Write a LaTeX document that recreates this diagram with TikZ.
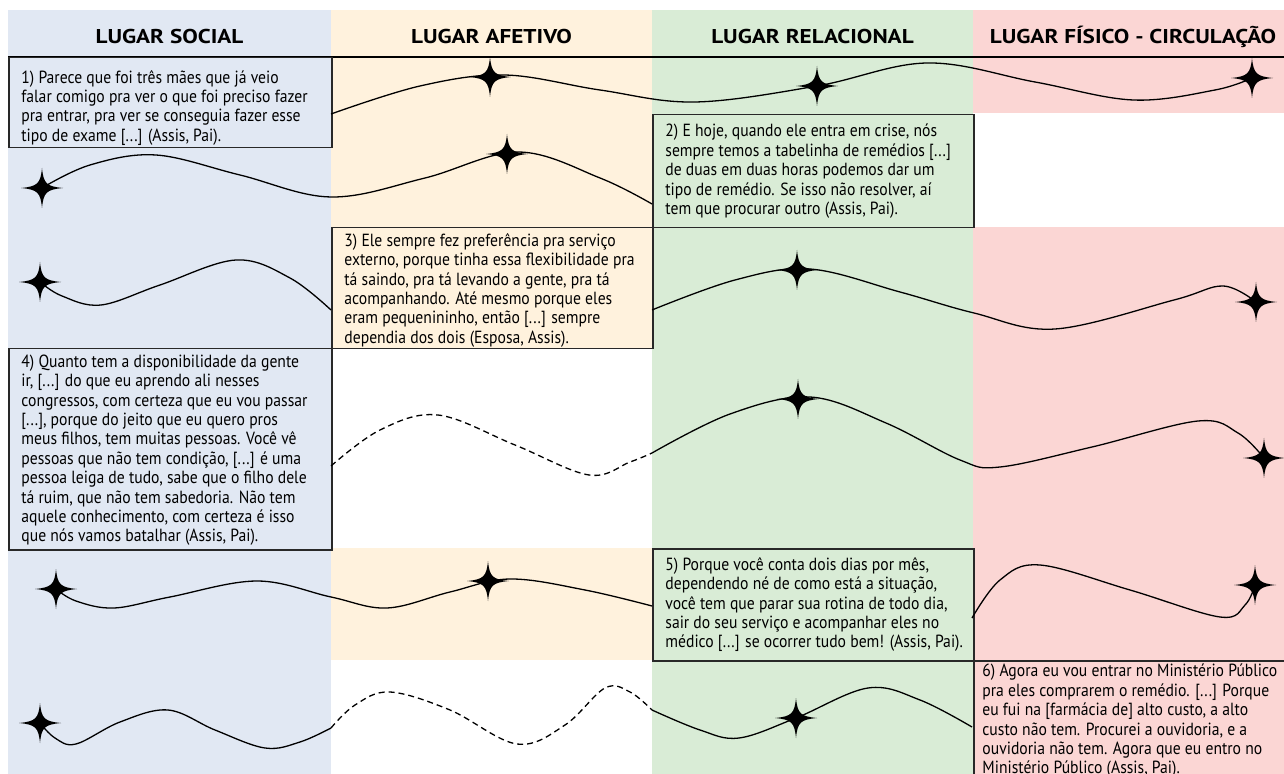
\documentclass[tikz,border=0pt]{standalone}
\usepackage{fontspec}
\setmainfont{PT Sans}
\newfontfamily\bodyfont{PT Sans}[FakeStretch=0.89]
\newfontfamily\headfont{PT Sans}[FakeStretch=1.16]
\usetikzlibrary{calc}
\definecolor{socialblue}{RGB}{225,232,243}
\definecolor{afetyellow}{RGB}{255,242,221}
\definecolor{relgreen}{RGB}{217,236,214}
\definecolor{fisred}{RGB}{251,214,212}
\definecolor{boxline}{RGB}{40,40,40}
\tikzset{
  quotebox/.style={draw=boxline, line width=0.75pt, inner sep=0pt, anchor=north west},
  quotetext/.style={font=\bodyfont\fontsize{8.8}{9.7}\selectfont, align=left, inner sep=0pt, anchor=west},
  headtext/.style={font=\headfont\bfseries\fontsize{10}{12}\selectfont, inner sep=0pt},
  curve/.style={line width=0.65pt, black},
  dashcurve/.style={line width=0.65pt, black, dash pattern=on 3pt off 2pt},
  spark/.pic={\fill[black] (0,-20) .. controls (1.5,-4.5) and (4.5,-1.5) .. (21,0) .. controls (4.5,1.5) and (1.5,4.5) .. (0,20) .. controls (-1.5,4.5) and (-4.5,1.5) .. (-21,0) .. controls (-4.5,-1.5) and (-1.5,-4.5) .. cycle;}
}
\begin{document}
\begin{tikzpicture}[x=0.5pt,y=-0.5pt]
\useasboundingbox (0,0) rectangle (1284,774);
\clip (0,0) rectangle (1284,774);
\fill[white] (0,0) rectangle (1284,774);
% column backgrounds
\fill[socialblue] (8,10) rectangle (331,774);
\fill[afetyellow] (331,10) rectangle (652,348);
\fill[afetyellow] (331,548) rectangle (652,660);
\fill[relgreen] (652,10) rectangle (973,774);
\fill[fisred] (973,10) rectangle (1284,113);
\fill[fisred] (973,227) rectangle (1284,660);
% headers
\node[headtext] (h1) at (169.5,37) {LUGAR SOCIAL};
\node[headtext] (h2) at (491.5,37) {LUGAR AFETIVO};
\node[headtext] (h3) at (812.5,37) {LUGAR RELACIONAL};
\node[headtext] (h4) at (1133,37) {LUGAR FÍSICO - CIRCULAÇÃO};
\draw[line width=1pt] (8,57) -- (1284,57);
% boxes
\node[quotebox, fill=socialblue, minimum width=161.5pt, minimum height=45pt] (b1) at (8,57) {};
\node[quotebox, fill=relgreen, minimum width=160.5pt, minimum height=56.5pt] (b2) at (652,114) {};
\node[quotebox, fill=afetyellow, minimum width=160.5pt, minimum height=60.5pt] (b3) at (331,227) {};
\node[quotebox, fill=socialblue, minimum width=161.5pt, minimum height=100.5pt] (b4) at (8,348) {};
\node[quotebox, fill=relgreen, minimum width=160.5pt, minimum height=56pt] (b5) at (652,548) {};
\node[quotebox, fill=fisred, minimum width=170pt, minimum height=70pt] (b6) at (973,660) {};
% star positions
\coordinate (sA1) at (490,77);
\coordinate (sA2) at (817,86);
\coordinate (sA3) at (1252,78);
\coordinate (sB1) at (507,154);
\coordinate (sB2) at (42,188);
\coordinate (sC1) at (40,282);
\coordinate (sC2) at (797,270);
\coordinate (sC3) at (1256,302);
\coordinate (sD1) at (798,399);
\coordinate (sD2) at (1264,458);
\coordinate (sE1) at (56,589);
\coordinate (sE2) at (488,581);
\coordinate (sE3) at (1255,585);
\coordinate (sF1) at (40,723);
\coordinate (sF2) at (796,718);
% curves
\draw[curve] plot[smooth, tension=0.6] coordinates {(331,114) (420,86) (505,75) (600,90) (695,102) (817,86) (927,63) (1035,82) (1133,100) (1215,90) (sA3)};
\draw[curve] plot[smooth, tension=0.6] coordinates {(652,204) (600,178) (518,152) (425,178) (331,197) (240,175) (156,155) (90,165) (sB2)};
\draw[curve] plot[smooth, tension=0.6] coordinates {(331,310) (290,278) (236,260) (160,285) (101,305) (62,296) (sC1)};
\draw[curve] plot[smooth, tension=0.6] coordinates {(652,310) (735,280) (810,269) (900,292) (974,313) (1055,329) (1174,300) (1223,286) (sC3)};
\draw[dashcurve] plot[smooth, tension=0.6] coordinates {(331,466) (380,430) (438,415) (515,445) (589,475) (630,462) (652,453)};
\draw[curve] plot[smooth, tension=0.6] coordinates {(652,453) (730,414) (810,397) (886,423) (960,460) (1000,467) (1092,447) (1198,421) (1238,433) (sD2)};
\draw[curve] plot[smooth, tension=0.6] coordinates {(652,606) (585,590) (510,579) (450,592) (387,608) (331,597) (257,581) (170,597) (114,608) (76,601) (sE1)};
\draw[curve] plot[smooth, tension=0.6] coordinates {(972,618) (1000,580) (1040,565) (1130,590) (1220,617) (1245,605) (sE3)};
\draw[curve] plot[smooth, tension=0.6] coordinates {(331,728) (300,742) (265,748) (215,730) (168,710) (120,722) (76,744) (55,738) (sF1)};
\draw[dashcurve] plot[smooth, tension=0.6] coordinates {(331,728) (355,705) (390,692) (450,710) (517,744) (565,725) (605,688) (630,692) (652,710)};
\draw[curve] plot[smooth, tension=0.6] coordinates {(652,710) (700,730) (739,738) (796,718) (868,688) (920,700) (972,727)};
% stars
\foreach \s in {sA1,sA2,sA3,sB1,sB2,sC1,sC2,sC3,sD1,sD2,sE1,sE2,sE3,sF1,sF2} {\pic at (\s) {spark};}
% texts
\node[quotetext] (t1) at ($(b1.west)+(13,5)$) {1) Parece que foi três mães que já veio\\falar comigo pra ver o que foi preciso fazer\\pra entrar, pra ver se conseguia fazer esse\\tipo de exame [...] (Assis, Pai).};
\node[quotetext] (t2) at ($(b2.west)+(13,0)$) {2) E hoje, quando ele entra em crise, nós\\sempre temos a tabelinha de remédios [...]\\de duas em duas horas podemos dar um\\tipo de remédio. Se isso não resolver, aí\\tem que procurar outro (Assis, Pai).};
\node[quotetext] (t3) at ($(b3.west)+(13,2)$) {3) Ele sempre fez preferência pra serviço\\externo, porque tinha essa flexibilidade pra\\tá saindo, pra tá levando a gente, pra tá\\acompanhando. Até mesmo porque eles\\eram pequenininho, então [...] sempre\\dependia dos dois (Esposa, Assis).};
\node[quotetext] (t4) at ($(b4.west)+(13,1)$) {4) Quanto tem a disponibilidade da gente\\ir, [...] do que eu aprendo ali nesses\\congressos, com certeza que eu vou passar\\{}[...], porque do jeito que eu quero pros\\meus filhos, tem muitas pessoas. Você vê\\pessoas que não tem condição, [...] é uma\\pessoa leiga de tudo, sabe que o filho dele\\tá ruim, que não tem sabedoria. Não tem\\aquele conhecimento, com certeza é isso\\que nós vamos batalhar (Assis, Pai).};
\node[quotetext] (t5) at ($(b5.west)+(13,0)$) {5) Porque você conta dois dias por mês,\\dependendo né de como está a situação,\\você tem que parar sua rotina de todo dia,\\sair do seu serviço e acompanhar eles no\\médico [...] se ocorrer tudo bem! (Assis, Pai).};
\node[quotetext] (t6) at (982,721) {6) Agora eu vou entrar no Ministério Público\\pra eles comprarem o remédio. [...] Porque\\eu fui na {[farmácia de]} alto custo, a alto\\custo não tem. Procurei a ouvidoria, e a\\ouvidoria não tem. Agora que eu entro no\\Ministério Público (Assis, Pai).};
\end{tikzpicture}
\end{document}
